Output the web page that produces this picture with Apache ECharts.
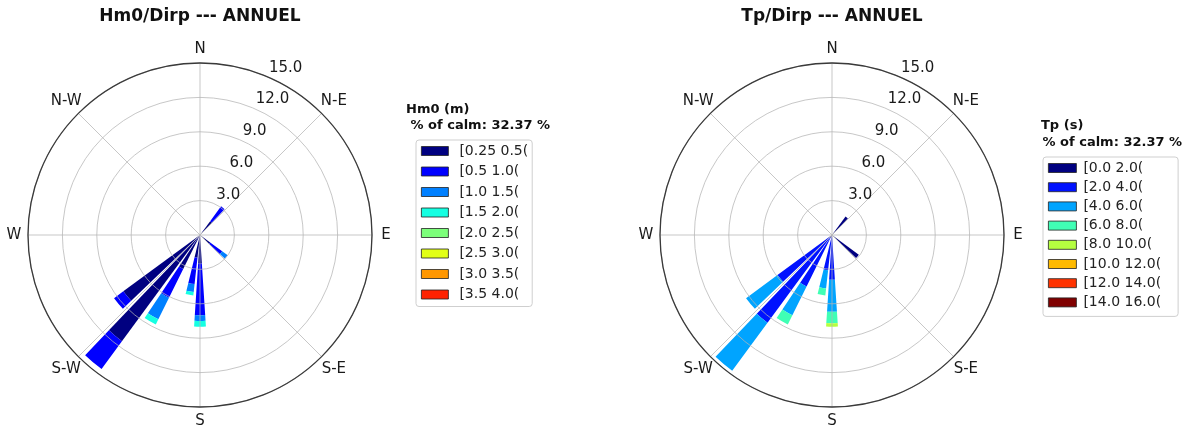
<!DOCTYPE html>
<html>
<head>
<meta charset="utf-8">
<script src="https://cdn.jsdelivr.net/npm/echarts@6/dist/echarts.min.js"></script>
<style>html,body{margin:0;padding:0;background:#fff}#c{width:1195px;height:427px}</style>
</head>
<body>
<div id="c"></div>
<script>
// ---- data ----
const directionLabels = ['N', 'N-E', 'E', 'S-E', 'S', 'S-W', 'W', 'N-W'];
const radialTicks = [3, 6, 9, 12, 15];
const dirs = [40, 130, 180, 190, 210, 220, 230]; // bearing of each non-empty sector (deg)

const hmBins = ['[0.25 0.5(', '[0.5 1.0(', '[1.0 1.5(', '[1.5 2.0(', '[2.0 2.5(', '[2.5 3.0(', '[3.0 3.5(', '[3.5 4.0('];
const hmColors = ['#000080', '#0000ff', '#0080ff', '#15ffe2', '#7cff7a', '#e2ff15', '#ff9700', '#ff2200'];
const hm_b1 = [1.5, 1.1, 2.5, 2.0, 3.3, 11.5, 8.3];
const hm_b2 = [1.6, 1.3, 4.5, 2.3, 2.8, 3.0, 1.0];
const hm_b3 = [0, 0.6, 0.5, 0.7, 2.1, 0, 0];
const hm_b4 = [0, 0, 0.5, 0.3, 0.5, 0, 0];
const hm_b5 = [0, 0, 0, 0, 0, 0, 0];
const hm_b6 = [0, 0, 0, 0, 0, 0, 0];
const hm_b7 = [0, 0, 0, 0, 0, 0, 0];
const hm_b8 = [0, 0, 0, 0, 0, 0, 0];

const tpBins = ['[0.0 2.0(', '[2.0 4.0(', '[4.0 6.0(', '[6.0 8.0(', '[8.0 10.0(', '[10.0 12.0(', '[12.0 14.0(', '[14.0 16.0('];
const tpColors = ['#000080', '#0012ff', '#00a4ff', '#40ffb5', '#b5ff40', '#ffba00', '#ff3300', '#800000'];
const tp_b1 = [2.0, 2.9, 0.3, 0.2, 0.3, 0.3, 0.3];
const tp_b2 = [0, 0, 3.6, 2.9, 4.7, 9.2, 5.6];
const tp_b3 = [0, 0, 2.8, 1.6, 2.8, 5.2, 3.4];
const tp_b4 = [0, 0, 1.0, 0.6, 0.9, 0, 0];
const tp_b5 = [0, 0, 0.3, 0, 0, 0, 0];
const tp_b6 = [0, 0, 0, 0, 0, 0, 0];
const tp_b7 = [0, 0, 0, 0, 0, 0, 0];
const tp_b8 = [0, 0, 0, 0, 0, 0, 0];

const calmText = ' % of calm: 32.37 %';
// ---------------

const sectorCats = [];
for (let a = 0; a < 360; a += 10) sectorCats.push(String(a));
function expand(vals) {
  const out = sectorCats.map(() => 0);
  dirs.forEach((d, i) => { out[d / 10] = vals[i]; });
  return out;
}
const FONT = 'DejaVu Sans';
const RMAX = 15, RSTEP = 3;

function roseComponents(cx, idx) {
  const center = [cx, 235], radius = 172;
  const polars = [{ center, radius }, { center, radius }, { center, radius }];
  const angleAxes = [
    { polarIndex: idx * 3, type: 'value', min: 0, max: 360, interval: 45, startAngle: 90, z: 5,
      axisLine: { lineStyle: { color: '#3a3a3a', width: 1.3 } },
      axisTick: { show: false },
      splitLine: { lineStyle: { color: 'rgba(180,180,180,0.75)', width: 1 } },
      axisLabel: { margin: 6, color: '#1a1a1a',
        formatter: v => v >= 360 ? '' : '{a|' + directionLabels[Math.round(v / 45)] + '}',
        rich: { a: { width: 16, height: 16, align: 'center', verticalAlign: 'middle',
          fontFamily: FONT, fontSize: 15, color: '#1a1a1a' } } } },
    { polarIndex: idx * 3 + 1, type: 'category', data: sectorCats, startAngle: 95, boundaryGap: true, show: false,
      axisLine: { show: false }, axisLabel: { show: false }, splitLine: { show: false }, axisTick: { show: false } },
    { polarIndex: idx * 3 + 2, type: 'value', min: 0, max: 360, startAngle: 67.5, show: false,
      axisLine: { show: false }, axisLabel: { show: false }, splitLine: { show: false }, axisTick: { show: false } }
  ];
  const radiusAxes = [
    { polarIndex: idx * 3, type: 'value', min: 0, max: RMAX, interval: RSTEP, z: 5,
      axisLine: { show: false }, axisTick: { show: false }, axisLabel: { show: false },
      splitLine: { lineStyle: { color: 'rgba(180,180,180,0.75)', width: 1 } } },
    { polarIndex: idx * 3 + 1, type: 'value', min: 0, max: RMAX, show: false,
      axisLine: { show: false }, axisTick: { show: false }, axisLabel: { show: false }, splitLine: { show: false } },
    { polarIndex: idx * 3 + 2, type: 'value', min: 0, max: RMAX, interval: RSTEP, z: 6,
      axisLine: { show: false }, axisTick: { show: false }, splitLine: { show: false },
      axisLabel: { show: true, margin: 2, align: 'left', verticalAlign: 'bottom', padding: [0, 0, 0, 5],
        fontFamily: FONT, fontSize: 15, color: '#1a1a1a',
        formatter: v => radialTicks.indexOf(v) >= 0 ? v.toFixed(1) : '' } }
  ];
  return { polars, angleAxes, radiusAxes };
}

const L = roseComponents(200, 0);
const R = roseComponents(832, 1);

const hmVals = [hm_b1, hm_b2, hm_b3, hm_b4, hm_b5, hm_b6, hm_b7, hm_b8];
const tpVals = [tp_b1, tp_b2, tp_b3, tp_b4, tp_b5, tp_b6, tp_b7, tp_b8];

const series = [];
hmBins.forEach((name, i) => series.push({
  name, type: 'bar', coordinateSystem: 'polar', polarIndex: 1, stack: 'hm', barWidth: '74%',
  itemStyle: { color: hmColors[i] }, data: expand(hmVals[i]), silent: true
}));
tpBins.forEach((name, i) => series.push({
  name, type: 'bar', coordinateSystem: 'polar', polarIndex: 4, stack: 'tp', barWidth: '74%',
  itemStyle: { color: tpColors[i] }, data: expand(tpVals[i]), silent: true
}));

const titleStyle = { fontFamily: FONT, fontSize: 17, fontWeight: 'bold', color: '#111' };
const legTitleStyle = { fontFamily: FONT, fontSize: 13, fontWeight: 'bold', color: '#111' };

const legendBase = {
  orient: 'vertical', selectedMode: false, backgroundColor: '#fff',
  borderColor: '#cfcfcf', borderWidth: 1, borderRadius: 3,
  itemHeight: 9, icon: 'rect',
  itemStyle: { borderColor: '#222', borderWidth: 0.8 },
  textStyle: { fontFamily: FONT, fontSize: 14, color: '#222' }
};

const option = {
  animation: false,
  backgroundColor: '#fff',
  title: [
    { text: 'Hm0/Dirp --- ANNUEL', left: 200, top: 8, textAlign: 'center', padding: 0, textStyle: titleStyle },
    { text: 'Tp/Dirp --- ANNUEL', left: 832, top: 8, textAlign: 'center', padding: 0, textStyle: titleStyle },
    { text: 'Hm0 (m)', left: 406, top: 103, padding: 0, textStyle: legTitleStyle },
    { text: calmText, left: 406, top: 119, padding: 0, textStyle: legTitleStyle },
    { text: 'Tp (s)', left: 1041, top: 119, padding: 0, textStyle: legTitleStyle },
    { text: calmText, left: 1038, top: 136, padding: 0, textStyle: legTitleStyle }
  ],
  legend: [
    Object.assign({}, legendBase, { data: hmBins, left: 416, top: 140, padding: [4, 4, 5, 5], itemWidth: 27, itemGap: 6.5,
      textStyle: Object.assign({}, legendBase.textStyle, { padding: [0, 0, 0, 6] }) }),
    Object.assign({}, legendBase, { data: tpBins, left: 1043, top: 157, padding: [4, 17, 7, 5], itemWidth: 28, itemGap: 5.2,
      textStyle: Object.assign({}, legendBase.textStyle, { padding: [0, 0, 0, 2] }) })
  ],
  polar: L.polars.concat(R.polars),
  angleAxis: L.angleAxes.concat(R.angleAxes),
  radiusAxis: L.radiusAxes.concat(R.radiusAxes),
  series
};

const chart = echarts.init(document.getElementById('c'), null, { renderer: 'canvas' });
chart.setOption(option);
</script>
</body>
</html>
